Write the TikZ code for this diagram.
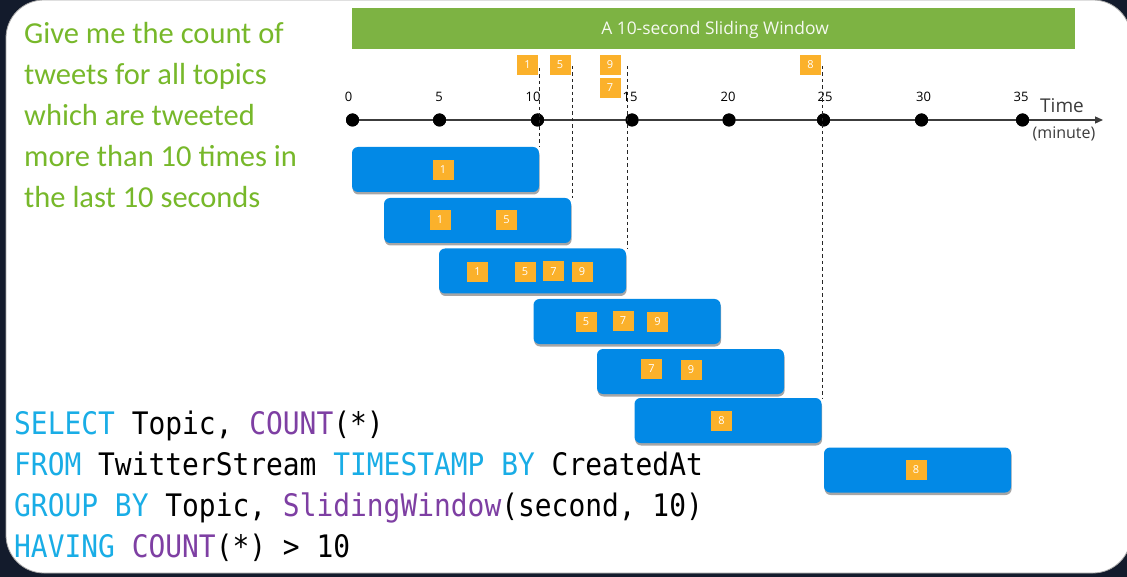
\documentclass[tikz,border=0pt]{standalone}
\usepackage{fontspec}
\setmainfont{Carlito}
\newfontfamily\uifont{Open Sans}
\newfontfamily\codefont[FakeStretch=0.9]{DejaVu Sans Mono}
\usetikzlibrary{shadows,arrows.meta}
\definecolor{navy}{HTML}{131B2C}
\definecolor{barblue}{HTML}{0289E6}
\definecolor{tagorange}{HTML}{FBB12B}
\definecolor{wingreen}{HTML}{7DB343}
\definecolor{txtgreen}{HTML}{77B82A}
\definecolor{kwblue}{HTML}{19ADE6}
\definecolor{fnpurple}{HTML}{7E3FA3}
\definecolor{axisgrey}{HTML}{3C3C3C}
\tikzset{
  winbar/.style={fill=barblue, rounded corners=6pt, minimum width=187pt, minimum height=45pt, inner sep=0pt,
    drop shadow={shadow xshift=0.6pt, shadow yshift=-2.5pt, opacity=0.35, fill=black}},
  tag/.style={fill=tagorange, text=white, minimum width=21pt, minimum height=20pt, inner sep=0pt, font=\uifont\fontsize{11}{11}\selectfont},
  tick/.style={circle, fill=black, minimum size=13pt, inner sep=0pt},
  ticklabel/.style={font=\uifont\fontsize{13}{13}\selectfont, text=black, inner sep=0pt},
  guide/.style={draw=black!85, line width=0.8pt, dash pattern=on 3.5pt off 3pt},
  question/.style={anchor=base west, inner sep=0pt, text=txtgreen, font=\fontsize{30.5}{30.5}\selectfont},
  code/.style={anchor=base west, inner sep=0pt, font=\codefont\fontsize{31}{31}\selectfont},
}
\newcommand{\kw}[1]{\textcolor{kwblue}{#1}}
\newcommand{\fn}[1]{\textcolor{fnpurple}{#1}}
\begin{document}
\begin{tikzpicture}[x=1pt,y=-1pt]
\useasboundingbox (0,0) rectangle (1127,577);
\fill[navy] (0,0) rectangle (1127,577);
\fill[white, draw=black!35, line width=0.8pt, rounded corners=38pt] (6,0) rectangle (1131,573);

% title bar
\node[fill=wingreen, minimum width=723pt, minimum height=41pt, inner sep=0pt] (title) at (713.5,28.5) {};
\node[text=white!92!wingreen, font=\uifont\fontsize{17.4}{17.4}\selectfont, inner sep=0pt] (titletext) at (715,30) {A 10-second Sliding Window};

% question text
\node[question] (q1) at (24,44) {Give me the count of};
\node[question] (q2) at (24,85) {tweets for all topics};
\node[question] (q3) at (24,126) {which are tweeted};
\node[question] (q4) at (24,167) {more than 10 times in};
\node[question] (q5) at (24,208) {the last 10 seconds};

% time axis
\coordinate (axend) at (1103,120);
\node[tick] (t0) at (352.5,120) {};
\node[tick] (t5) at (439.5,120) {};
\node[tick] (t10) at (537.5,120) {};
\node[tick] (t15) at (632,120) {};
\node[tick] (t20) at (729,120) {};
\node[tick] (t25) at (823.5,120) {};
\node[tick] (t30) at (921.5,120) {};
\node[tick] (t35) at (1022.5,120) {};
\draw[axisgrey, line width=1.3pt, -{Triangle[length=8pt,width=7pt]}] (t0.center) -- (axend);
\foreach \t in {0,5,10,15,20,25,30,35}{\node[tick] at (t\t) {};}

\node[ticklabel] (l0) at (348.5,97) {0};
\node[ticklabel] (l5) at (439,97) {5};
\node[ticklabel] (l10) at (533,97) {10};
\node[ticklabel] (l15) at (630,97) {15};
\node[ticklabel] (l20) at (728,97) {20};
\node[ticklabel] (l25) at (825,97) {25};
\node[ticklabel] (l30) at (923.5,97) {30};
\node[ticklabel] (l35) at (1021,97) {35};
\node[font=\uifont\fontsize{19}{19}\selectfont, text=axisgrey, inner sep=0pt] (timelbl) at (1062,106) {Time};
\node[font=\uifont\fontsize{16}{16}\selectfont, text=axisgrey, inner sep=0pt] (unitlbl) at (1064,134) {(minute)};

% event tags above axis
\node[tag] (e1) at (527.5,65) {1};
\node[tag] (e5) at (560,65) {5};
\node[tag] (e9) at (610,65) {9};
\node[tag] (e7) at (610,88) {7};
\node[tag] (e8) at (810.5,65) {8};

% windows
\node[winbar] (b1) at (445.5,169.5) {};
\node[winbar] (b2) at (477.5,220.5) {};
\node[winbar] (b3) at (532.5,271) {};
\node[winbar] (b4) at (627,321.5) {};
\node[winbar] (b5) at (690.5,371.5) {};
\node[winbar] (b6) at (728,420.5) {};
\node[winbar] (b7) at (917.5,470) {};

% dashed guides
\coordinate (g1) at (539.5,68);
\coordinate (g2) at (572,66);
\coordinate (g3) at (627,66);
\coordinate (g4) at (822.5,66);
\draw[guide] (g1) -- (g1 |- b1.north);
\draw[guide] (g2) -- (g2 |- b2.north);
\draw[guide] (g3) -- (g3 |- b3.north);
\draw[guide] (g4) -- (g4 |- b6.north);

% tags inside windows
\node[tag] (w1a) at (443,170) {1};
\node[tag] (w2a) at (440,220) {1};
\node[tag] (w2b) at (506.5,220) {5};
\node[tag] (w3a) at (477.5,272) {1};
\node[tag] (w3b) at (525,272) {5};
\node[tag] (w3c) at (553.5,271.5) {7};
\node[tag] (w3d) at (582,272) {9};
\node[tag] (w4a) at (586,322) {5};
\node[tag] (w4b) at (623,321) {7};
\node[tag] (w4c) at (657.5,322) {9};
\node[tag] (w5a) at (651.5,369) {7};
\node[tag] (w5b) at (691,369.5) {9};
\node[tag] (w6a) at (721.5,421) {8};
\node[tag] (w7a) at (916,470) {8};

% query
\node[code] (c1) at (14,434) {\kw{SELECT} Topic, \fn{COUNT}(*)};
\node[code] (c2) at (14,475) {\kw{FROM} TwitterStream \kw{TIMESTAMP BY} CreatedAt};
\node[code] (c3) at (14,516) {\kw{GROUP BY} Topic, \fn{SlidingWindow}(second, 10)};
\node[code] (c4) at (14,557) {\kw{HAVING} \fn{COUNT}(*) > 10};
\end{tikzpicture}
\end{document}
